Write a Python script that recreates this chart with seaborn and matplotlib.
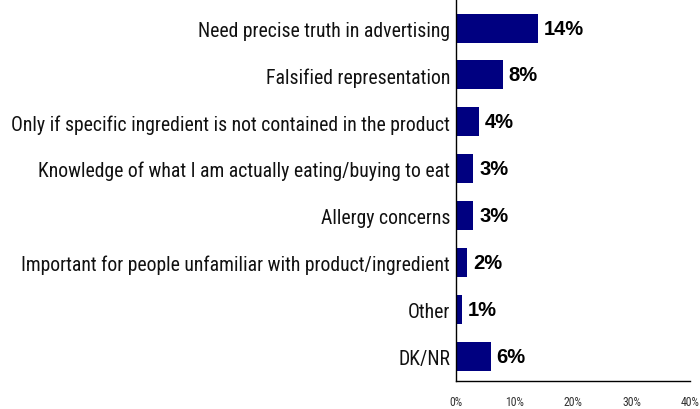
import matplotlib
matplotlib.use("Agg")
import matplotlib.pyplot as plt
import seaborn as sns
import pandas as pd

categories = [
    "Need precise truth in advertising",
    "Falsified representation",
    "Only if specific ingredient is not contained in the product",
    "Knowledge of what I am actually eating/buying to eat",
    "Allergy concerns",
    "Important for people unfamiliar with product/ingredient",
    "Other",
    "DK/NR",
]
values = [14, 8, 4, 3, 3, 2, 1, 6]
x_ticks = [0, 10, 20, 30, 40]

sns.set_theme(style="white")
plt.rcParams["font.family"] = ["Roboto Condensed", "Archivo Narrow", "Liberation Sans", "DejaVu Sans"]

df = pd.DataFrame({"reason": categories, "pct": values})

fig = plt.figure(figsize=(7.0, 4.1), dpi=100)
ax = fig.add_axes([0.651, 0.068, 0.335, 0.932])

sns.barplot(data=df, y="reason", x="pct", order=categories, color="#000080",
            saturation=1, width=0.62, linewidth=0, ax=ax)

ax.set_xlim(0, 40)
ax.set_ylim(len(categories) - 0.47, -0.62)
ax.set_xticks(x_ticks)
ax.set_xticklabels([f"{t}%" for t in x_ticks], fontsize=8.5, color="#333333")
ax.tick_params(axis="x", direction="out", length=4, width=1, color="black", pad=6)
ax.tick_params(axis="y", length=0, pad=4)
for lab in ax.get_yticklabels():
    lab.set_fontsize(14.2)
    lab.set_color("#111111")
ax.set_xlabel("")
ax.set_ylabel("")

for s in ["top", "right"]:
    ax.spines[s].set_visible(False)
for s in ["left", "bottom"]:
    ax.spines[s].set_color("black")
    ax.spines[s].set_linewidth(1)

for i, v in enumerate(values):
    ax.text(v + 1.0, i, f"{v}%", va="center", ha="left", fontsize=14.5,
            fontweight="bold", family=["Liberation Sans", "DejaVu Sans"], color="black")

fig.savefig("out.png", dpi=100)
